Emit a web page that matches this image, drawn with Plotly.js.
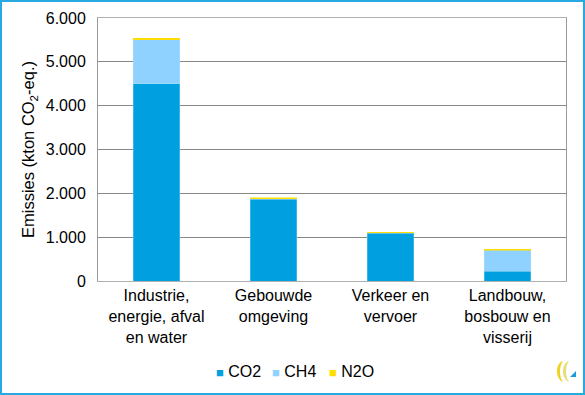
<!DOCTYPE html>
<html>
<head>
<meta charset="utf-8">
<script src="https://cdn.plot.ly/plotly-3.0.1.min.js"></script>
<style>
  html, body { margin: 0; padding: 0; background: #fff; }
  #wrap { position: relative; width: 585px; height: 395px; }
  #chart { position: absolute; left: 0; top: 0; width: 585px; height: 395px; }
  #frame { position: absolute; left: 0; top: 0; width: 585px; height: 395px; box-sizing: border-box; border: 2px solid #29A9E1; pointer-events: none; }
  #logo { position: absolute; left: 554px; top: 359px; }
</style>
</head>
<body>
<div id="wrap">
  <div id="chart"></div>
  <div id="frame"></div>
  <svg id="logo" width="26" height="24" viewBox="0 0 26 24">
    <path d="M9 2 C1 4 1 20 9 23 C5 18 5 7 9 2 Z" fill="#F0D020"/>
    <path d="M15 2 C7 4 7 20 15 23 C11 18 11 7 15 2 Z" fill="#E6DC7A"/>
    <path d="M16 18 L22 12 L22 18 Z" fill="#1F9AD9"/>
  </svg>
</div>
<script>
const categories = ["Industrie,<br>energie, afval<br>en water", "Gebouwde<br>omgeving", "Verkeer en<br>vervoer", "Landbouw,<br>bosbouw en<br>visserij"];
const seriesNames = ["CO2", "CH4", "N2O"];
const co2 = [4500, 1870, 1095, 220];
const ch4 = [1000, 10, 5, 480];
const n2o = [35, 20, 15, 30];
const yTicks = [0, 1000, 2000, 3000, 4000, 5000, 6000];
const colors = ["#009FE0", "#8FD2FF", "#FFDD00"];

const values = [co2, ch4, n2o];
const data = values.map((v, i) => ({
  type: "bar", x: categories, y: v, name: seriesNames[i], width: 0.4,
  marker: { color: colors[i], line: { color: i < 2 ? "rgba(190,230,250,0.6)" : colors[i], width: 0.5 } },
  showlegend: false
}));

// legend drawn as text annotations (compact, like the reference)
const legendX = [216, 272, 329];  // pixel left edges of the square markers
const plotL = 98, plotW = 468, plotB = 281, plotH = 263;
const annotations = [];
seriesNames.forEach((n, i) => {
  annotations.push({
    xref: "paper", yref: "paper",
    x: (legendX[i] - 2 - plotL) / plotW, y: (plotB - 371) / plotH,
    xanchor: "left", yanchor: "middle", showarrow: false,
    text: "<span style='color:" + colors[i] + ";font-size:13px'>■</span> " + n,
    font: { size: 16 }
  });
});

const layout = {
  width: 585, height: 395,
  margin: { l: 98, r: 19, t: 18, b: 114 },
  barmode: "stack",
  separators: ",.",
  paper_bgcolor: "#fff",
  plot_bgcolor: "#fff",
  font: { family: "Liberation Sans, Arial, sans-serif", size: 16, color: "#000" },
  showlegend: false,
  annotations: annotations,
  xaxis: {
    showline: true, mirror: true, linecolor: "#B0B0B0", linewidth: 1,
    ticks: "", tickfont: { size: 16 }, showgrid: false, automargin: false
  },
  yaxis: {
    range: [0, 6000], tickvals: yTicks, tickformat: ",.0f",
    showgrid: true, gridcolor: "#888", gridwidth: 1,
    showline: true, mirror: true, linecolor: "#999", linewidth: 1,
    zeroline: false, ticks: "", ticklabelstandoff: 8,
    tickfont: { size: 16 }, automargin: false,
    title: { text: "Emissies (kton CO<sub>2</sub>-eq.)", font: { size: 16.5 }, standoff: 6 }
  }
};

Plotly.newPlot("chart", data, layout, { displayModeBar: false, staticPlot: true });
</script>
</body>
</html>
